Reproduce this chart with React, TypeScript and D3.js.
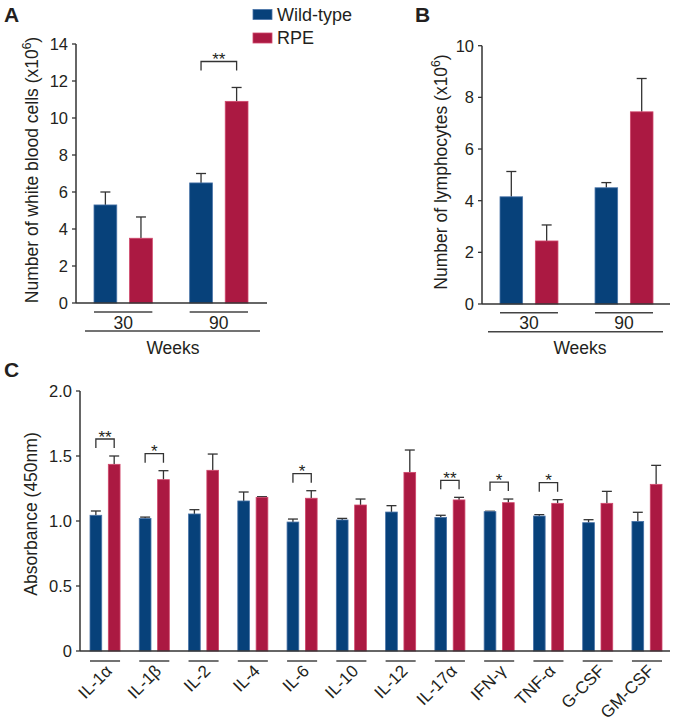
import React from "react";
import * as d3 from "d3";

const weeks = ["30", "90"];
const wbcWT = [5.3, 6.49];
const wbcWTErr = [0.7, 0.51];
const wbcRPE = [3.5, 10.9];
const wbcRPEErr = [1.15, 0.75];
const wbcSig = ["", "**"];
const wbcTicks = [0, 2, 4, 6, 8, 10, 12, 14];

const lymWT = [4.15, 4.5];
const lymWTErr = [0.98, 0.2];
const lymRPE = [2.44, 7.44];
const lymRPEErr = [0.62, 1.29];
const lymSig = ["", ""];
const lymTicks = [0, 2, 4, 6, 8, 10];

const cytokines = ["IL-1α", "IL-1β", "IL-2", "IL-4", "IL-6", "IL-10", "IL-12", "IL-17α", "IFN-γ", "TNF-α", "G-CSF", "GM-CSF"];
const cytWT = [1.044, 1.02, 1.054, 1.154, 0.992, 1.008, 1.069, 1.028, 1.072, 1.038, 0.987, 0.997];
const cytWTErr = [0.033, 0.01, 0.033, 0.069, 0.023, 0.012, 0.049, 0.016, 0.003, 0.011, 0.023, 0.07];
const cytRPE = [1.436, 1.318, 1.39, 1.182, 1.175, 1.123, 1.374, 1.162, 1.141, 1.136, 1.136, 1.282];
const cytRPEErr = [0.064, 0.069, 0.125, 0.005, 0.058, 0.046, 0.172, 0.02, 0.028, 0.028, 0.092, 0.146];
const cytSig = ["**", "*", "", "", "*", "", "", "**", "*", "*", "", ""];
const cytTicks = [0, 0.5, 1.0, 1.5, 2.0];

const seriesNames = ["Wild-type", "RPE"];
const BLUE = "#07417a";
const RED = "#ab1942";
const BLUE_EDGE = "#4a74a8";
const RED_EDGE = "#d0486c";
const INK = "#231f20";
const FONT = "'Liberation Sans', Arial, Helvetica, sans-serif";
const TICK_FS = 16.5;
const LABEL_FS = 17.5;

type PanelProps = {
  cats: string[];
  wt: number[];
  wtErr: number[];
  rpe: number[];
  rpeErr: number[];
  sig: string[];
  ticks: number[];
  tickFmt: (v: number) => string;
  yMax: number;
  axisX: number;
  axisTop: number;
  axisBottom: number;
  axisRight: number;
  bandStart: number;
  bandEnd: number;
  sigOffset: number;
};

function Bars(p: PanelProps) {
  const y = d3.scaleLinear().domain([0, p.yMax]).range([p.axisBottom, p.axisTop]);
  const x0 = d3.scaleBand<string>().domain(p.cats).range([p.bandStart, p.bandEnd]).paddingInner(0.39).paddingOuter(0);
  const x1 = d3.scaleBand<string>().domain(seriesNames).range([0, x0.bandwidth()]).paddingInner(0.36).paddingOuter(0);
  const bw = x1.bandwidth();
  const cap = Math.min(10, bw * 0.85);
  return (
    <g>
      {p.cats.map((c, i) => {
        const vals = [p.wt[i], p.rpe[i]];
        const errs = [p.wtErr[i], p.rpeErr[i]];
        return (
          <g key={c}>
            {seriesNames.map((s, j) => {
              const bx = (x0(c) as number) + (x1(s) as number);
              const cx = bx + bw / 2;
              const top = y(vals[j]);
              const et = y(vals[j] + errs[j]);
              return (
                <g key={s}>
                  <line x1={cx} x2={cx} y1={top} y2={et} stroke="#333" strokeWidth={1.3} />
                  <line x1={cx - cap / 2} x2={cx + cap / 2} y1={et} y2={et} stroke="#333" strokeWidth={1.3} />
                  <rect
                    x={bx}
                    y={top}
                    width={bw}
                    height={p.axisBottom - top}
                    fill={j === 0 ? BLUE : RED}
                    stroke={j === 0 ? BLUE_EDGE : RED_EDGE}
                    strokeWidth={0.8}
                  />
                </g>
              );
            })}
            {p.sig[i] ? (() => {
              const bxL = (x0(c) as number) + (x1(seriesNames[0]) as number) + bw / 2;
              const bxR = (x0(c) as number) + (x1(seriesNames[1]) as number) + bw / 2;
              const top = y(p.rpe[i] + p.rpeErr[i]) - p.sigOffset;
              return (
                <g>
                  <path d={`M${bxL},${top + 9}V${top}H${bxR}V${top + 9}`} fill="none" stroke="#333" strokeWidth={1.3} />
                  <text x={(bxL + bxR) / 2} y={top + 3.5} textAnchor="middle" fontSize={17} fill={INK} fontFamily={FONT}>
                    {p.sig[i]}
                  </text>
                </g>
              );
            })() : null}
          </g>
        );
      })}
      <line x1={p.axisX} x2={p.axisX} y1={p.axisTop} y2={p.axisBottom} stroke="#333" strokeWidth={1.5} />
      <line x1={p.axisX} x2={p.axisRight} y1={p.axisBottom} y2={p.axisBottom} stroke="#333" strokeWidth={1.5} />
      {p.ticks.map((t) => (
        <g key={t}>
          <line x1={p.axisX - 4} x2={p.axisX} y1={y(t)} y2={y(t)} stroke="#333" strokeWidth={1.3} />
          <text x={p.axisX - 8} y={y(t) + 6} textAnchor="end" fontSize={TICK_FS} fill={INK} fontFamily={FONT}>
            {p.tickFmt(t)}
          </text>
        </g>
      ))}
    </g>
  );
}

function GroupUnderlines({ cats, bandStart, bandEnd, yLine, labelY, rotate }: { cats: string[]; bandStart: number; bandEnd: number; yLine: number; labelY: number; rotate: boolean }) {
  const x0 = d3.scaleBand<string>().domain(cats).range([bandStart, bandEnd]).paddingInner(0.39).paddingOuter(0);
  return (
    <g>
      {cats.map((c) => {
        const xs = x0(c) as number;
        const cx = xs + x0.bandwidth() / 2;
        return (
          <g key={c}>
            <line x1={xs} x2={xs + x0.bandwidth()} y1={yLine} y2={yLine} stroke="#444" strokeWidth={1.5} />
            {rotate ? (
              <text x={cx + 8} y={labelY} textAnchor="end" fontSize={17} fill={INK} fontFamily={FONT} transform={`rotate(-45,${cx + 8},${labelY})`}>
                {c}
              </text>
            ) : (
              <text x={cx} y={labelY} textAnchor="middle" fontSize={LABEL_FS} fill={INK} fontFamily={FONT}>
                {c}
              </text>
            )}
          </g>
        );
      })}
    </g>
  );
}

export default function App() {
  const fmtInt = (v: number) => d3.format("d")(v);
  const fmtC = (v: number) => (v === 0 ? "0" : d3.format(".1f")(v));
  return (
    <svg width={675} height={728} viewBox="0 0 675 728" style={{ position: "absolute", left: 0, top: 0, background: "#fff" }}>
      <rect x={0} y={0} width={675} height={728} fill="#fff" />
      <text x={4} y={22} fontSize={21} fontWeight="bold" fill={INK} fontFamily={FONT}>A</text>
      <text x={415} y={22} fontSize={21} fontWeight="bold" fill={INK} fontFamily={FONT}>B</text>
      <text x={4} y={377} fontSize={21} fontWeight="bold" fill={INK} fontFamily={FONT}>C</text>

      <rect x={253} y={9.5} width={19} height={10} fill={BLUE} stroke={BLUE_EDGE} strokeWidth={0.8} />
      <text x={277} y={20.5} fontSize={18} fill={INK} fontFamily={FONT}>{seriesNames[0]}</text>
      <rect x={253} y={33} width={19} height={10} fill={RED} stroke={RED_EDGE} strokeWidth={0.8} />
      <text x={277} y={44} fontSize={18} fill={INK} fontFamily={FONT}>{seriesNames[1]}</text>

      <Bars cats={weeks} wt={wbcWT} wtErr={wbcWTErr} rpe={wbcRPE} rpeErr={wbcRPEErr} sig={wbcSig} ticks={wbcTicks} tickFmt={fmtInt} yMax={14}
        axisX={76} axisTop={44} axisBottom={303} axisRight={267} bandStart={94} bandEnd={248} sigOffset={26} />
      <GroupUnderlines cats={weeks} bandStart={94} bandEnd={248} yLine={312} labelY={328.5} rotate={false} />
      <line x1={85} x2={260} y1={331} y2={331} stroke="#444" strokeWidth={1.5} />
      <text x={173} y={353.5} textAnchor="middle" fontSize={LABEL_FS} fill={INK} fontFamily={FONT}>Weeks</text>
      <text x={38} y={170} textAnchor="middle" fontSize={LABEL_FS} fill={INK} fontFamily={FONT} transform="rotate(-90,38,170)">
        Number of white blood cells (x10<tspan fontSize={12} dy={-7}>6</tspan><tspan dy={7}>)</tspan>
      </text>

      <Bars cats={weeks} wt={lymWT} wtErr={lymWTErr} rpe={lymRPE} rpeErr={lymRPEErr} sig={lymSig} ticks={lymTicks} tickFmt={fmtInt} yMax={10}
        axisX={482} axisTop={45.7} axisBottom={304} axisRight={670} bandStart={500} bandEnd={653} sigOffset={26} />
      <GroupUnderlines cats={weeks} bandStart={500} bandEnd={653} yLine={312.7} labelY={329} rotate={false} />
      <line x1={488} x2={663} y1={331.7} y2={331.7} stroke="#444" strokeWidth={1.5} />
      <text x={580} y={354} textAnchor="middle" fontSize={LABEL_FS} fill={INK} fontFamily={FONT}>Weeks</text>
      <text x={447} y={172} textAnchor="middle" fontSize={LABEL_FS} fill={INK} fontFamily={FONT} transform="rotate(-90,447,172)">
        Number of lymphocytes (x10<tspan fontSize={12} dy={-7}>6</tspan><tspan dy={7}>)</tspan>
      </text>

      <Bars cats={cytokines} wt={cytWT} wtErr={cytWTErr} rpe={cytRPE} rpeErr={cytRPEErr} sig={cytSig} ticks={cytTicks} tickFmt={fmtC} yMax={2}
        axisX={80} axisTop={391} axisBottom={651} axisRight={670} bandStart={90} bandEnd={662} sigOffset={17} />
      <GroupUnderlines cats={cytokines} bandStart={90} bandEnd={662} yLine={661} labelY={672} rotate={true} />
      <text x={37} y={514} textAnchor="middle" fontSize={LABEL_FS} fill={INK} fontFamily={FONT} transform="rotate(-90,37,514)">
        Absorbance (450nm)
      </text>
    </svg>
  );
}
